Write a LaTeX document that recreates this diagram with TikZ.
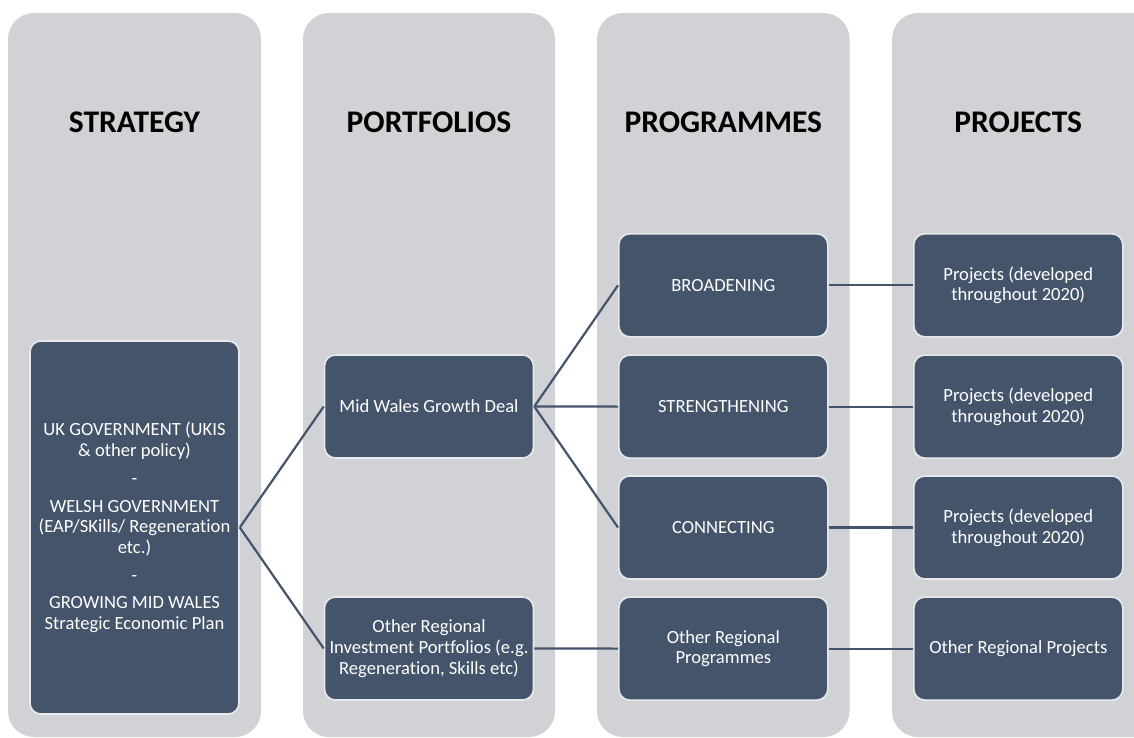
\documentclass[tikz,border=0pt]{standalone}
\usepackage{fontspec}
\setmainfont{Carlito}[Ligatures=NoCommon]
\definecolor{colbg}{RGB}{208,210,214}
\definecolor{boxfill}{RGB}{68,84,106}
\definecolor{boxedge}{RGB}{232,233,236}
\tikzset{
  column/.style={fill=colbg, draw=none, rounded corners=26pt},
  title/.style={font=\fontsize{31.5}{36}\selectfont\bfseries, text=black, anchor=center},
  item/.style={fill=boxfill, draw=boxedge, line width=1.6pt, rounded corners=11pt,
    text=white, align=center, minimum width=209pt, minimum height=103pt,
    inner sep=1pt, font=\fontsize{18.6}{20.7}\selectfont},
  link/.style={draw=boxfill, line width=2.2pt}
}
\begin{document}
\begin{tikzpicture}[x=1pt,y=-1pt]
\useasboundingbox (0,0) rectangle (1134,738);
\clip (0,0) rectangle (1134,738);
\fill[white] (0,0) rectangle (1134,738);
% columns
\path[column] (8,13) rectangle (261,737);
\path[column] (303,13) rectangle (555,737);
\path[column] (597,13) rectangle (849.5,737);
\path[column] (892,13) rectangle (1160,737);
% titles
\node[title] (t1) at (134.5,122) {STRATEGY};
\node[title] (t2) at (429,122) {PORTFOLIOS};
\node[title] (t3) at (723.3,122) {PROGRAMMES};
\node[title] (t4) at (1018.3,122) {PROJECTS};
% strategy
\node[item, minimum height=373pt] (s) at (134.5,527.5)
  {UK GOVERNMENT (UKIS\\ \& other policy)\\[7pt] -\\[7pt] WELSH GOVERNMENT\\ (EAP/SKills/ Regeneration\\ etc.)\\[7pt] -\\[7pt] GROWING MID WALES\\ Strategic Economic Plan};
% portfolios
\node[item] (p1) at (429,406.5) {Mid Wales Growth Deal};
\node[item] (p2) at (429,648.5) {Other Regional\\ Investment Portfolios (e.g.\\ Regeneration, Skills etc)};
% programmes
\node[item] (g1) at (723.3,285.3) {BROADENING};
\node[item] (g2) at (723.3,406.6) {STRENGTHENING};
\node[item] (g3) at (723.3,527.5) {CONNECTING};
\node[item] (g4) at (723.3,648.6) {Other Regional\\ Programmes};
% projects
\node[item] (j1) at (1018.3,285.3) {Projects (developed\\ throughout 2020)};
\node[item] (j2) at (1018.3,406.6) {Projects (developed\\ throughout 2020)};
\node[item] (j3) at (1018.3,527.5) {Projects (developed\\ throughout 2020)};
\node[item] (j4) at (1018.3,648.6) {Other Regional Projects};
% connectors
\draw[link] (s.east) -- (p1.west);
\draw[link] (s.east) -- (p2.west);
\draw[link] (p1.east) -- (g1.west);
\draw[link] (p1.east) -- (g2.west);
\draw[link] (p1.east) -- (g3.west);
\draw[link] (p2.east) -- (g4.west);
\draw[link] (g1.east) -- (j1.west);
\draw[link] (g2.east) -- (j2.west);
\draw[link] (g3.east) -- (j3.west);
\draw[link] (g4.east) -- (j4.west);
\end{tikzpicture}
\end{document}
